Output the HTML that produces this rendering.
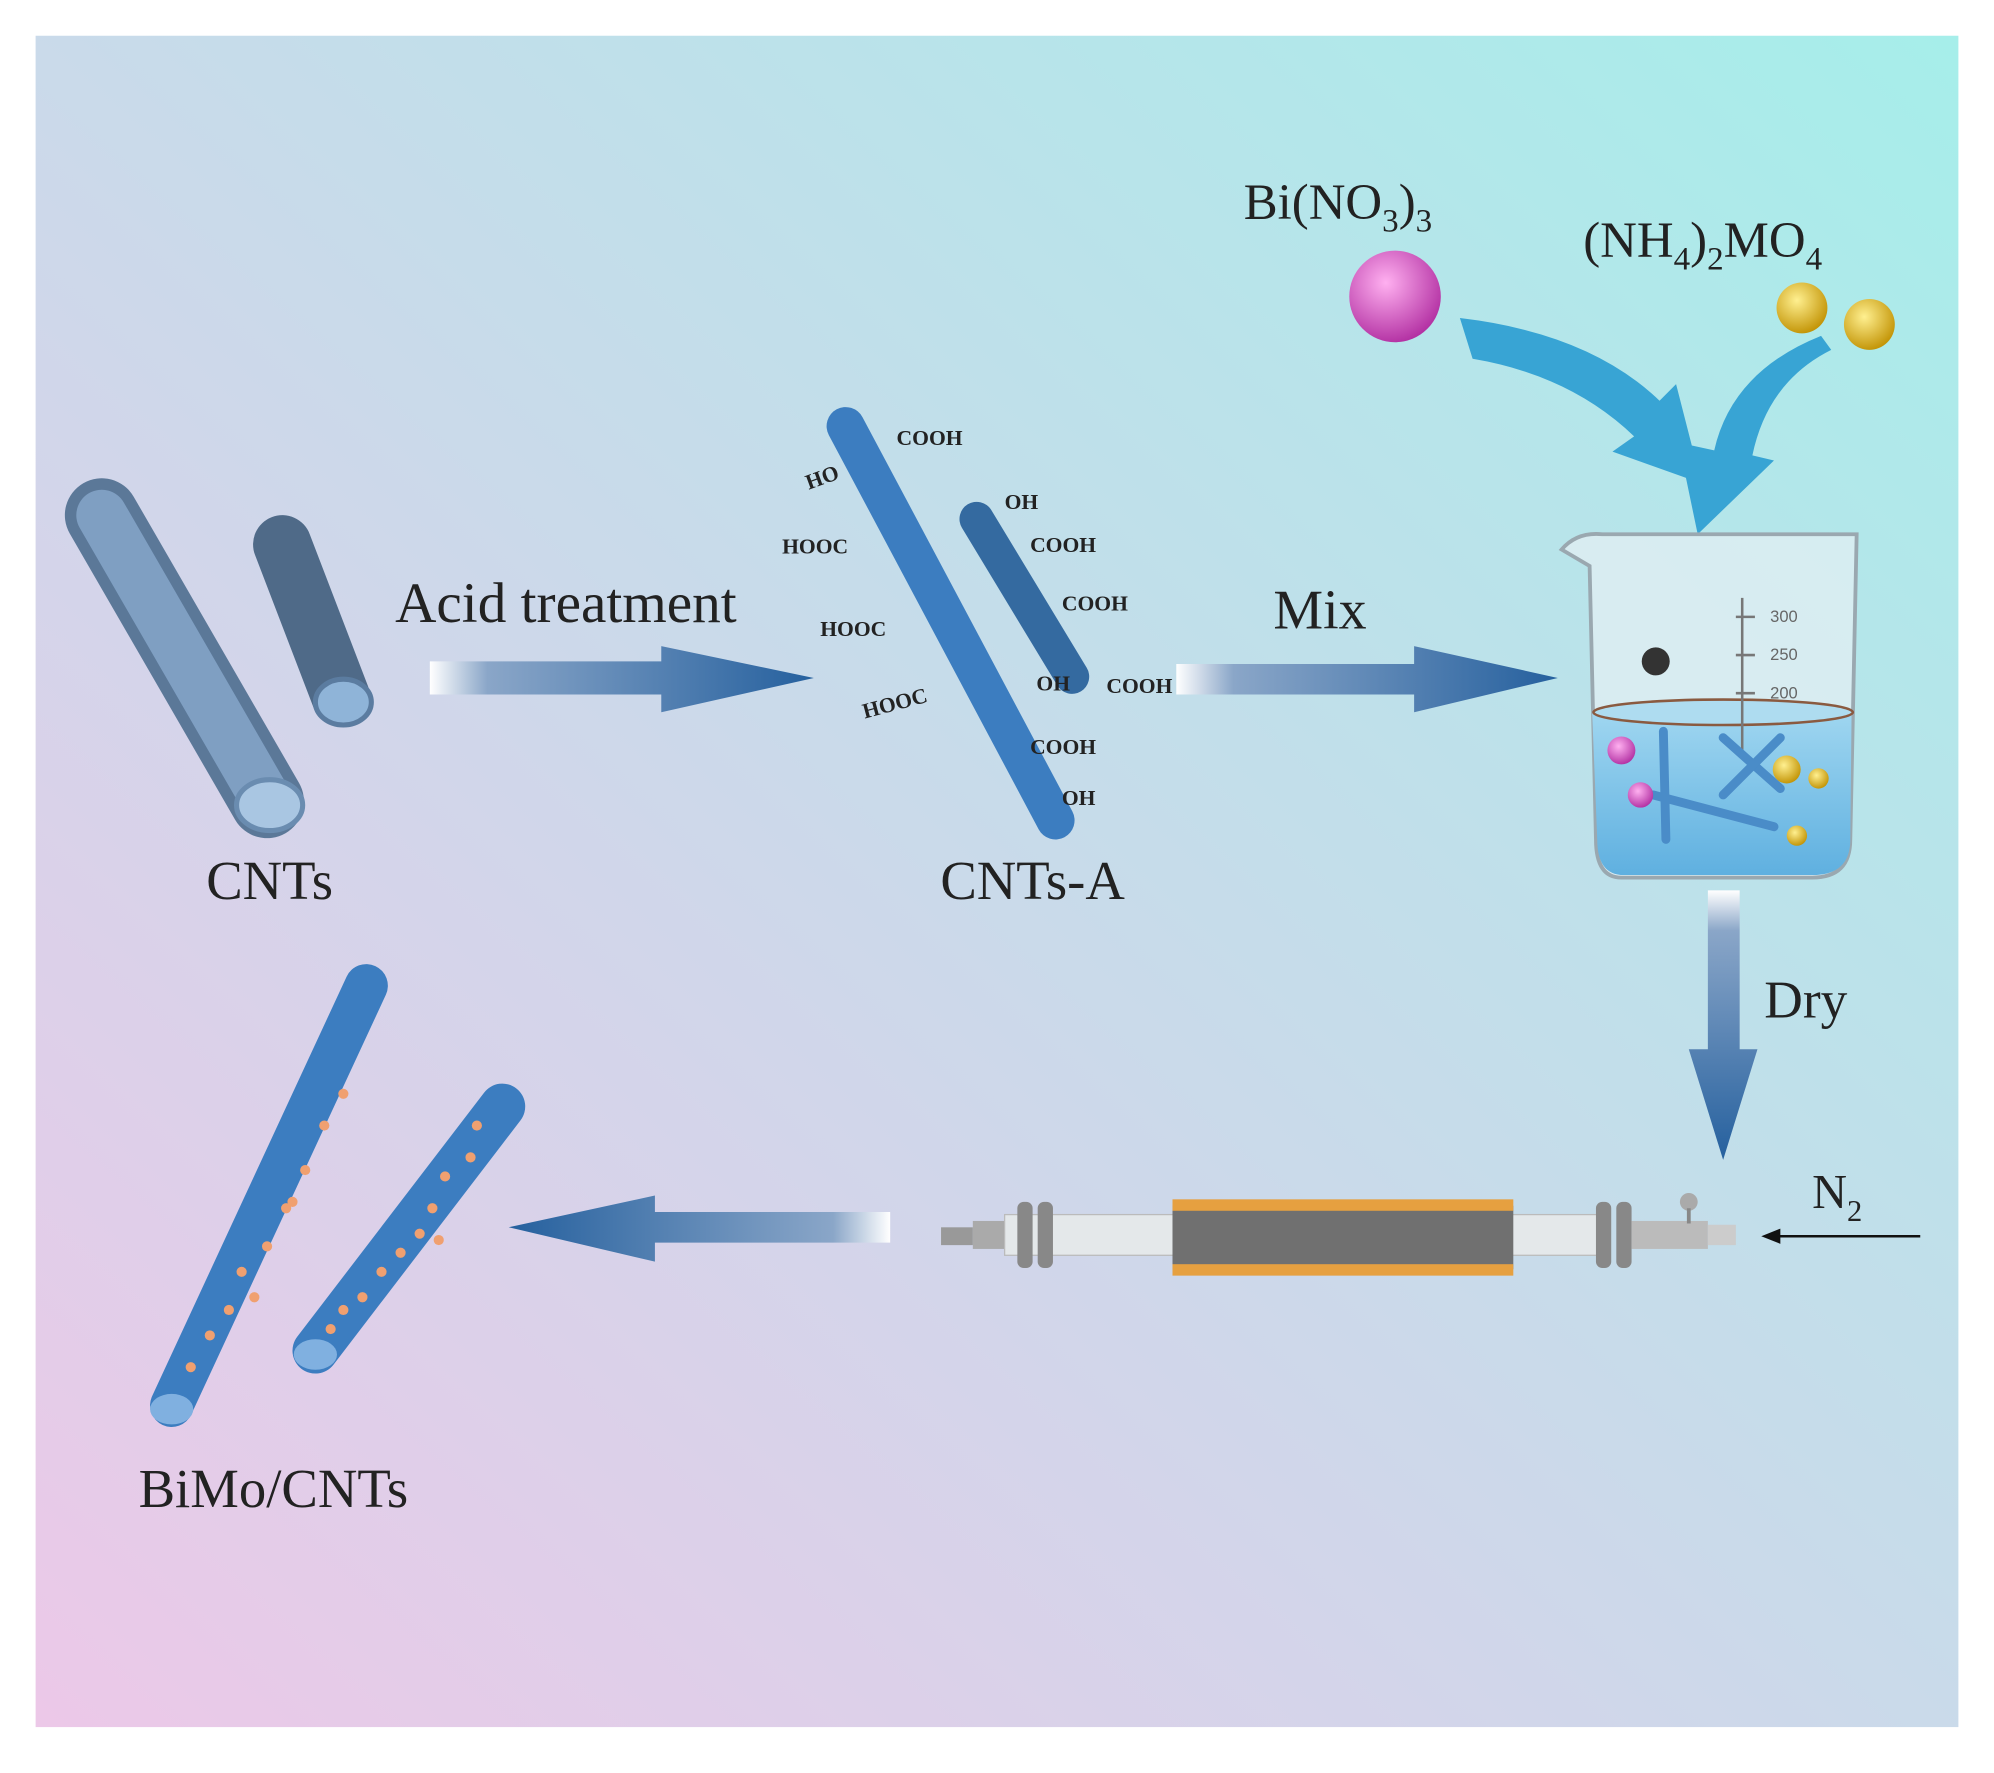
<!DOCTYPE html>
<html><head><meta charset="utf-8"><style>html,body{margin:0;padding:0;background:#fff}svg{display:block}</style></head>
<body>
<svg width="1994" height="1773" viewBox="0 0 1568 1394" xmlns="http://www.w3.org/2000/svg" font-family="Liberation Serif, serif">
<defs>
<linearGradient id="bg1" x1="0" y1="1" x2="1" y2="0">
<stop offset="0" stop-color="#ecc8e8"/><stop offset="0.45" stop-color="#cdd8ea"/><stop offset="1" stop-color="#a6eeea"/>
</linearGradient>
<linearGradient id="ah" x1="0" y1="0" x2="1" y2="0"><stop offset="0" stop-color="#ffffff"/><stop offset="0.15" stop-color="#8aa6c8"/><stop offset="1" stop-color="#25609e"/></linearGradient>
<linearGradient id="al" x1="1" y1="0" x2="0" y2="0"><stop offset="0" stop-color="#ffffff"/><stop offset="0.15" stop-color="#8aa6c8"/><stop offset="1" stop-color="#25609e"/></linearGradient>
<linearGradient id="av" x1="0" y1="0" x2="0" y2="1"><stop offset="0" stop-color="#ffffff"/><stop offset="0.15" stop-color="#8aa6c8"/><stop offset="1" stop-color="#25609e"/></linearGradient>
<radialGradient id="pk" cx="0.4" cy="0.35" r="0.7"><stop offset="0" stop-color="#ffb0f0"/><stop offset="1" stop-color="#b02ca0"/></radialGradient>
<radialGradient id="yl" cx="0.4" cy="0.35" r="0.7"><stop offset="0" stop-color="#fff090"/><stop offset="1" stop-color="#c09000"/></radialGradient>
<linearGradient id="wat" x1="0" y1="0" x2="0" y2="1"><stop offset="0" stop-color="#9fd6f0"/><stop offset="1" stop-color="#5fb0e0"/></linearGradient>
</defs>
<rect x="28" y="28" width="1512" height="1330" fill="url(#bg1)"/>

<!-- CNTs -->
<line x1="80" y1="405" x2="210" y2="630" stroke="#5b7898" stroke-width="58" stroke-linecap="round"/>
<line x1="80" y1="405" x2="210" y2="630" stroke="#7f9fc2" stroke-width="40" stroke-linecap="round"/>
<ellipse cx="212" cy="633" rx="26" ry="20" fill="#a9c6e2" stroke="#6a8cb0" stroke-width="4"/>
<line x1="222" y1="428" x2="268" y2="548" stroke="#4f6a88" stroke-width="46" stroke-linecap="round"/>
<ellipse cx="270" cy="552" rx="22" ry="18" fill="#8fb4d8" stroke="#5b7ca0" stroke-width="4"/>
<text x="212" y="707" font-size="43" text-anchor="middle" fill="#222">CNTs</text>

<!-- Acid arrow -->
<text x="445" y="489" font-size="45" text-anchor="middle" fill="#222">Acid treatment</text>
<polygon points="338,520 520,520 520,508 640,533 520,560 520,546 338,546" fill="url(#ah)"/>

<!-- CNTs-A -->
<line x1="665" y1="335" x2="830" y2="645" stroke="#3c7dc0" stroke-width="30" stroke-linecap="round"/>
<line x1="768" y1="408" x2="843" y2="532" stroke="#346aa0" stroke-width="27" stroke-linecap="round"/>
<g font-size="17" font-weight="bold" fill="#222">
<text x="705" y="350">COOH</text><text x="636" y="385" transform="rotate(-20 636 385)">HO</text>
<text x="615" y="435">HOOC</text><text x="645" y="500">HOOC</text><text x="680" y="565" transform="rotate(-15 680 565)">HOOC</text>
<text x="790" y="400">OH</text><text x="810" y="434">COOH</text><text x="835" y="480">COOH</text>
<text x="870" y="545">COOH</text><text x="815" y="543">OH</text><text x="810" y="593">COOH</text><text x="835" y="633">OH</text>
</g>
<text x="812" y="707" font-size="43" text-anchor="middle" fill="#222">CNTs-A</text>

<!-- Mix arrow -->
<text x="1038" y="494" font-size="44" text-anchor="middle" fill="#222">Mix</text>
<polygon points="925,522 1112,522 1112,508 1225,533 1112,560 1112,546 925,546" fill="url(#ah)"/>

<!-- Reagents -->
<text x="978" y="172" font-size="40" fill="#222">Bi(NO<tspan font-size="26" dy="10">3</tspan><tspan dy="-10">)</tspan><tspan font-size="26" dy="10">3</tspan></text>
<text x="1245" y="202" font-size="40" fill="#222">(NH<tspan font-size="26" dy="10">4</tspan><tspan dy="-10">)</tspan><tspan font-size="26" dy="10">2</tspan><tspan dy="-10">MO</tspan><tspan font-size="26" dy="10">4</tspan></text>
<circle cx="1097" cy="233" r="36" fill="url(#pk)"/>
<circle cx="1417" cy="242" r="20" fill="url(#yl)"/>
<circle cx="1470" cy="255" r="20" fill="url(#yl)"/>
<path d="M1148,250 Q1250,262 1305,315 L1318,302 L1338,380 L1268,355 L1285,343 Q1235,295 1158,282 Z" fill="#38a4d4"/>
<path d="M1440,275 Q1390,300 1378,358 L1395,362 L1335,420 L1320,348 L1348,354 Q1362,292 1432,264 Z" fill="#38a4d4"/>

<!-- Beaker -->
<path d="M1228,432 Q1240,418 1260,420 L1460,420 L1455,660 Q1455,690 1425,690 L1275,690 Q1255,690 1255,660 L1250,445 Z" fill="#e6f0f4" fill-opacity="0.7" stroke="#9aa8b0" stroke-width="3"/>
<path d="M1252,560 L1456,560 L1455,660 Q1455,688 1425,688 L1277,688 Q1256,688 1256,660 Z" fill="url(#wat)"/>
<ellipse cx="1355" cy="560" rx="102" ry="10" fill="#aedcf0" stroke="#8a5a40" stroke-width="2"/>
<g stroke="#777" stroke-width="2"><line x1="1365" y1="485" x2="1380" y2="485"/><line x1="1365" y1="515" x2="1380" y2="515"/><line x1="1365" y1="545" x2="1380" y2="545"/><line x1="1370" y1="470" x2="1370" y2="590"/></g>
<g font-size="13" fill="#666" font-family="Liberation Sans, sans-serif"><text x="1392" y="489">300</text><text x="1392" y="519">250</text><text x="1392" y="549">200</text></g>
<circle cx="1302" cy="520" r="11" fill="#333"/>
<g stroke="#4a8cc8" stroke-width="7" stroke-linecap="round"><line x1="1308" y1="575" x2="1310" y2="660"/><line x1="1355" y1="580" x2="1400" y2="620"/><line x1="1400" y1="580" x2="1355" y2="625"/><line x1="1300" y1="625" x2="1395" y2="650"/></g>
<circle cx="1275" cy="590" r="11" fill="url(#pk)"/><circle cx="1290" cy="625" r="10" fill="url(#pk)"/>
<circle cx="1405" cy="605" r="11" fill="url(#yl)"/><circle cx="1430" cy="612" r="8" fill="url(#yl)"/><circle cx="1413" cy="657" r="8" fill="url(#yl)"/>

<!-- Dry arrow -->
<text x="1420" y="800" font-size="42" text-anchor="middle" fill="#222">Dry</text>
<polygon points="1343,700 1368,700 1368,825 1382,825 1355,912 1328,825 1343,825" fill="url(#av)"/>

<!-- N2 -->
<text x="1425" y="950" font-size="38" fill="#222">N<tspan font-size="24" dy="10">2</tspan></text>
<line x1="1390" y1="972" x2="1510" y2="972" stroke="#111" stroke-width="2"/>
<polygon points="1385,972 1400,966 1400,978" fill="#111"/>

<!-- Furnace -->
<rect x="740" y="965" width="25" height="14" fill="#999"/>
<rect x="765" y="960" width="25" height="22" fill="#aaa"/>
<rect x="790" y="955" width="470" height="32" fill="#e4e8ea" stroke="#bbb"/>
<rect x="800" y="945" width="12" height="52" rx="5" fill="#888"/><rect x="816" y="945" width="12" height="52" rx="5" fill="#888"/>
<rect x="1255" y="945" width="12" height="52" rx="5" fill="#888"/><rect x="1271" y="945" width="12" height="52" rx="5" fill="#888"/>
<rect x="922" y="948" width="268" height="50" fill="#707070"/>
<rect x="922" y="943" width="268" height="9" fill="#e6a040"/><rect x="922" y="994" width="268" height="9" fill="#e6a040"/>
<rect x="1283" y="960" width="60" height="22" fill="#bbb"/><rect x="1343" y="963" width="22" height="16" fill="#ccc"/>
<circle cx="1328" cy="945" r="7" fill="#aaa"/><line x1="1328" y1="950" x2="1328" y2="962" stroke="#888" stroke-width="3"/>

<!-- Left arrow -->
<polygon points="700,953 515,953 515,940 400,965 515,992 515,977 700,977" fill="url(#al)"/>

<!-- BiMo/CNTs -->
<line x1="288" y1="775" x2="135" y2="1105" stroke="#3c7dc0" stroke-width="34" stroke-linecap="round"/>
<line x1="395" y1="870" x2="248" y2="1062" stroke="#3c7dc0" stroke-width="36" stroke-linecap="round"/>
<ellipse cx="135" cy="1108" rx="17" ry="12" fill="#80b0e0"/>
<ellipse cx="248" cy="1065" rx="17" ry="12" fill="#80b0e0"/>
<g fill="#f0a070">
<circle cx="270" cy="860" r="4"/><circle cx="255" cy="885" r="4"/><circle cx="240" cy="920" r="4"/><circle cx="225" cy="950" r="4"/><circle cx="210" cy="980" r="4"/><circle cx="200" cy="1020" r="4"/><circle cx="180" cy="1030" r="4"/><circle cx="165" cy="1050" r="4"/><circle cx="150" cy="1075" r="4"/><circle cx="230" cy="945" r="4"/><circle cx="190" cy="1000" r="4"/>
<circle cx="375" cy="885" r="4"/><circle cx="370" cy="910" r="4"/><circle cx="350" cy="925" r="4"/><circle cx="340" cy="950" r="4"/><circle cx="330" cy="970" r="4"/><circle cx="315" cy="985" r="4"/><circle cx="300" cy="1000" r="4"/><circle cx="285" cy="1020" r="4"/><circle cx="270" cy="1030" r="4"/><circle cx="260" cy="1045" r="4"/><circle cx="345" cy="975" r="4"/>
</g>
<text x="215" y="1185" font-size="43" text-anchor="middle" fill="#222">BiMo/CNTs</text>
</svg>
</body></html>
